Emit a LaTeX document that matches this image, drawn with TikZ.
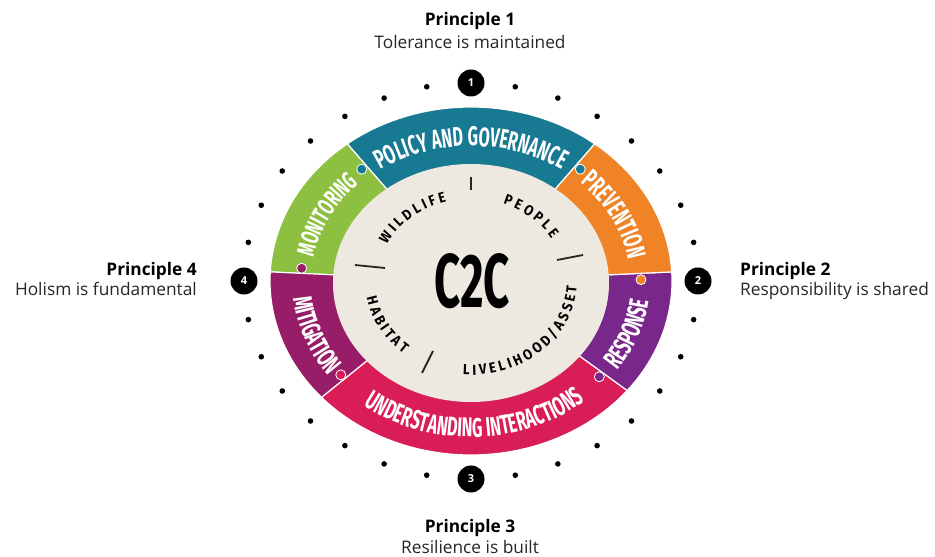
\documentclass[tikz,border=0pt]{standalone}
\usepackage{fontspec}
\setmainfont{Open Sans}
\newfontfamily\condfont[FakeStretch=0.6]{Fira Sans}
\newfontfamily\wordfont[FakeStretch=0.9]{Fira Sans}
\usetikzlibrary{decorations.text}
\definecolor{cteal}{RGB}{23,121,146}
\definecolor{cgreen}{RGB}{141,191,64}
\definecolor{corange}{RGB}{239,131,38}
\definecolor{cpurple}{RGB}{122,39,140}
\definecolor{cmagenta}{RGB}{152,29,104}
\definecolor{ccrimson}{RGB}{217,30,87}
\definecolor{cbeige}{RGB}{238,233,224}
\tikzset{
  badge/.style={circle, fill=black, text=white, minimum size=27pt, inner sep=0pt,
    font=\bfseries\fontsize{11}{11}\selectfont},
  dotmark/.style={fill=black},
  segment/.style={fill=#1, draw=white, line width=1.2pt},
  tab/.style={fill=#1, draw=white, line width=0.8pt},
  tick/.style={draw=black!85, line width=1.8pt},
  ptitle/.style={font=\bfseries\fontsize{17.3}{17.3}\selectfont, inner sep=0pt},
  psub/.style={font=\fontsize{17.3}{17.3}\selectfont, text=black!85, inner sep=0pt},
}
% annular sector: color, start, end
\newcommand\ringseg[3]{%
  \path[segment=#1] (#2:201 and 174) arc[start angle=#2, end angle=#3, x radius=201, y radius=174]
    -- (#3:134 and 114) arc[start angle=#3, end angle=#2, x radius=134, y radius=114] -- cycle;}
% text along an elliptical arc: text, start, end, xr, yr, color
\newcommand\arctext[6]{%
  \path[decorate, decoration={text along path, text={#1}, text align=center, text color=#6}]
    (#2:#4 and #5) arc[start angle=#2, end angle=#3, x radius=#4, y radius=#5];}
\begin{document}
\begin{tikzpicture}[x=1pt,y=1pt]
\useasboundingbox (0,0) rectangle (935,557);
\fill[white] (0,0) rectangle (935,557);
\begin{scope}[shift={(471,276)}]
  % ring segments
  \ringseg{cteal}{52}{128}
  \ringseg{cgreen}{128}{177}
  \ringseg{cmagenta}{177}{222}
  \ringseg{ccrimson}{222}{321}
  \ringseg{cpurple}{321}{363}
  \ringseg{corange}{3}{52}
  % puzzle tabs
  \path[tab=cteal] (50:170 and 146) circle (5);
  \path[tab=cteal] (130:170 and 146) circle (5);
  \path[tab=corange] (0.5:170 and 146) circle (5);
  \path[tab=cmagenta] (175:170 and 146) circle (5);
  \path[tab=ccrimson] (220:170 and 146) circle (5);
  \path[tab=cpurple] (319:170 and 146) circle (5);
  % inner disc
  \fill[cbeige] (0,-2) ellipse [x radius=138, y radius=119];
  % ring labels
  \arctext{|\condfont\bfseries\fontsize{27}{27}\selectfont|POLICY AND GOVERNANCE}{128}{52}{159}{135}{white}
  \arctext{|\condfont\bfseries\fontsize{27}{27}\selectfont|PREVENTION}{52}{3}{159}{135}{white}
  \arctext{|\condfont\bfseries\fontsize{25}{25}\selectfont|MONITORING}{177}{128}{160}{136}{white}
  \arctext{|\condfont\bfseries\fontsize{27}{27}\selectfont|MITIGATION}{177}{226}{179}{156}{white}
  \arctext{|\condfont\bfseries\fontsize{27}{27}\selectfont|UNDERSTANDING INTERACTIONS}{222}{321}{179}{156}{white}
  \arctext{|\condfont\bfseries\fontsize{27}{27}\selectfont|RESPONSE}{319}{359}{179}{156}{white}
  % inner words
  \arctext{|\wordfont\bfseries\fontsize{14.5}{14.5}\selectfont|W I L D L I F E}{165}{95}{94}{82}{black}
  \arctext{|\wordfont\bfseries\fontsize{14.5}{14.5}\selectfont|P E O P L E}{80}{20}{94}{82}{black}
  \arctext{|\wordfont\bfseries\fontsize{14.5}{14.5}\selectfont|H A B I T A T}{180}{240}{106}{94}{black}
  \arctext{|\wordfont\bfseries\fontsize{14.5}{14.5}\selectfont|L I V E L I H O O D / A S S E T}{254}{370}{106}{94}{black}
  % ticks
  \draw[tick] (0,104) -- (0,91);
  \draw[tick] (-116,16) -- (-86,13);
  \draw[tick] (86,21) -- (112,26);
  \draw[tick] (-49,-92) -- (-38,-70);
  % centre
  \node[inner sep=0pt] (c2c) at (1,0) {\condfont\bfseries\fontsize{76}{76}\selectfont C2C};
  % dots
  \foreach \q in {0,90,180,270} {
    \foreach \k in {1,...,7} {
      \fill[dotmark] (\q+\k*11.25:227 and 198) circle (2.8);
    }
  }
  % badges
  \node[badge] (b1) at (90:227 and 198) {1};
  \node[badge] (b2) at (0:227 and 198) {2};
  \node[badge] (b3) at (270:227 and 198) {3};
  \node[badge] (b4) at (180:227 and 198) {4};
\end{scope}
% principle labels
\node[ptitle, anchor=base] (p1t) at (470,531) {Principle 1};
\node[psub, anchor=base] (p1s) at (470,508) {Tolerance is maintained};
\node[ptitle, anchor=base west] (p2t) at (740,281) {Principle 2};
\node[psub, anchor=base west] (p2s) at (740,261) {Responsibility is shared};
\node[ptitle, anchor=base] (p3t) at (470,24) {Principle 3};
\node[psub, anchor=base] (p3s) at (470,3) {Resilience is built};
\node[ptitle, anchor=base east] (p4t) at (197,281) {Principle 4};
\node[psub, anchor=base east] (p4s) at (197,261) {Holism is fundamental};
\end{tikzpicture}
\end{document}
